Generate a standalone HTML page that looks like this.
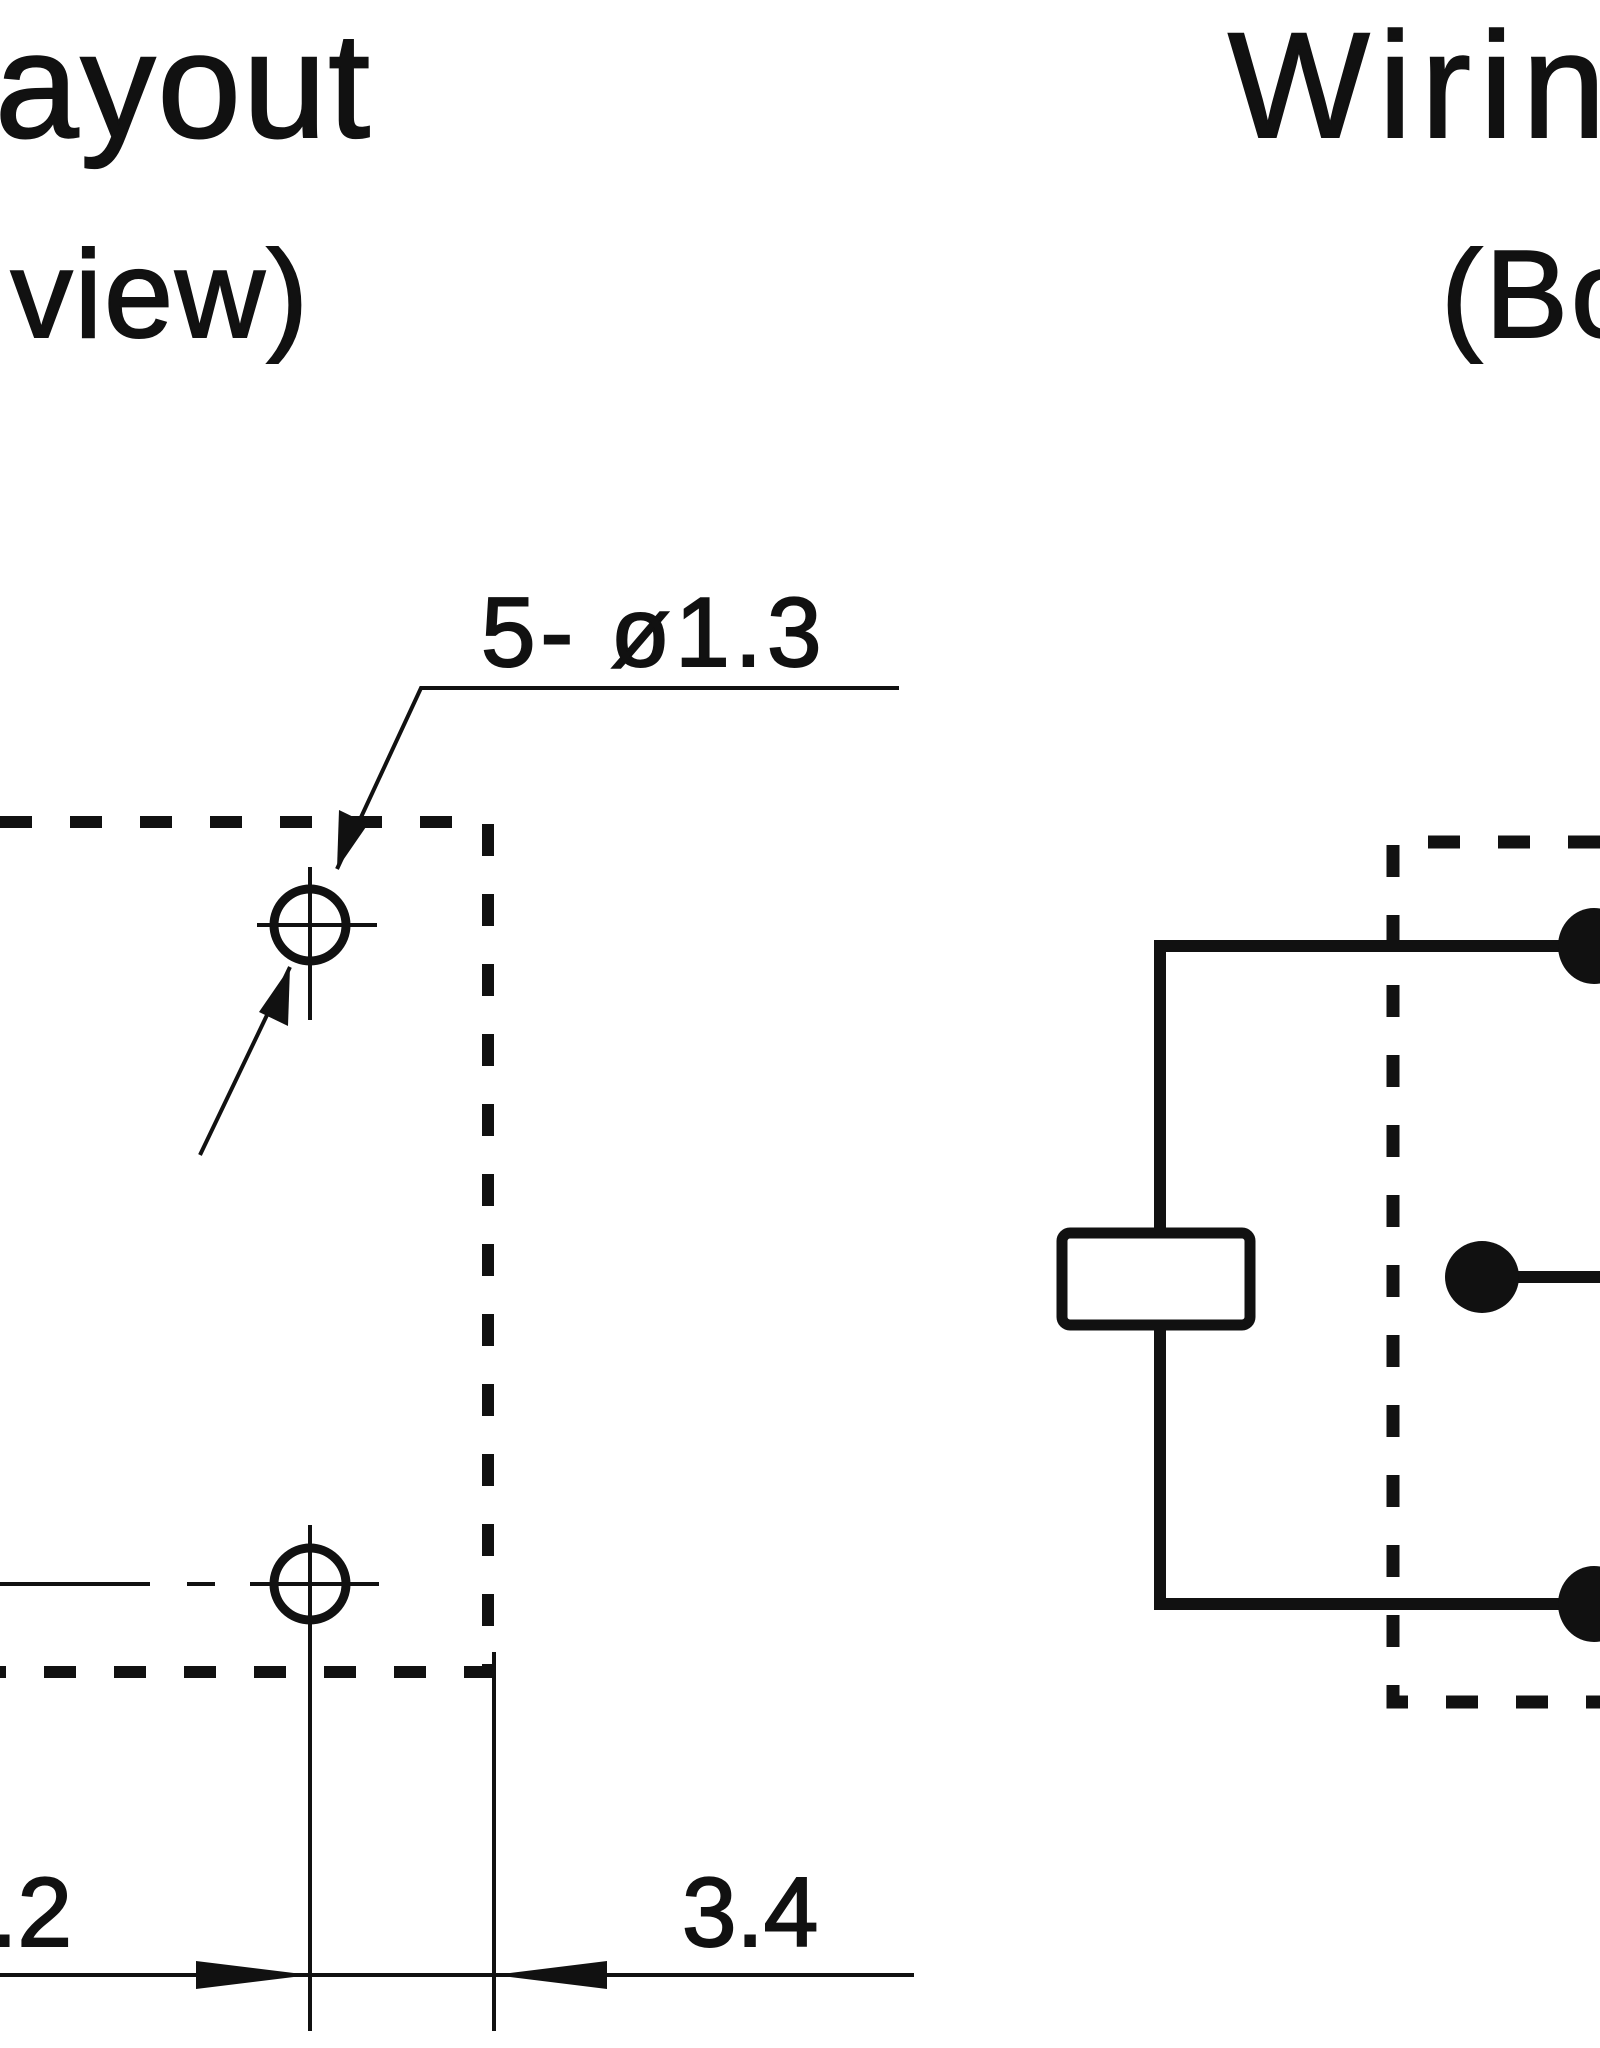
<!DOCTYPE html>
<html><head><style>html,body{margin:0;padding:0;background:#fff}svg{display:block}</style></head>
<body>
<svg width="1600" height="2048" viewBox="0 0 1600 2048" xmlns="http://www.w3.org/2000/svg">
<g font-family="Liberation Sans, sans-serif" fill="#111" stroke="#111" stroke-width="2">
<text x="372" y="137" font-size="150" text-anchor="end" letter-spacing="2">Layout</text>
<text x="310" y="337" font-size="124" text-anchor="end" letter-spacing="2">(Bottom view)</text>
<text x="1228" y="137" font-size="150" letter-spacing="9">Wiring Diagram</text>
<text x="1441" y="337" font-size="124" letter-spacing="3">(Bottom view)</text>
<text x="481" y="666" font-size="98" letter-spacing="5">5- ø1.3</text>
<text x="72" y="1946" font-size="98" text-anchor="end">2.2</text>
<text x="682" y="1946" font-size="98">3.4</text>
</g>
<g stroke="#111" fill="none">
<path d="M0 822 H488 V1672 H0" stroke-width="12" stroke-dasharray="32 38"/>
<polyline points="899,688 421,688 337,869" stroke-width="4"/>
<circle cx="310" cy="925" r="36" stroke-width="9"/>
<line x1="257" y1="925" x2="377" y2="925" stroke-width="4"/>
<line x1="310" y1="867" x2="310" y2="1020" stroke-width="4"/>
<line x1="200" y1="1155" x2="290" y2="967" stroke-width="4"/>
<circle cx="310" cy="1584" r="36" stroke-width="9"/>
<line x1="0" y1="1584" x2="150" y2="1584" stroke-width="4"/>
<line x1="187" y1="1584" x2="215" y2="1584" stroke-width="4"/>
<line x1="250" y1="1584" x2="379" y2="1584" stroke-width="4"/>
<line x1="310" y1="1525" x2="310" y2="2031" stroke-width="4"/>
<line x1="494" y1="1652" x2="494" y2="2031" stroke-width="4"/>
<line x1="0" y1="1975" x2="914" y2="1975" stroke-width="4"/>
</g>
<g fill="#111">
<polygon points="337,869 339,810 368,824"/>
<polygon points="290,967 288,1026 259,1012"/>
<polygon points="310,1975 196,1961 196,1989"/>
<polygon points="494,1975 607,1961 607,1989"/>
</g>
<g stroke="#111" fill="none">
<path d="M1600 842 H1393 V1702 H1600" stroke-width="13" stroke-dasharray="32 38"/>
<polyline points="1600,946 1160,946 1160,1231" stroke-width="12"/>
<polyline points="1600,1604 1160,1604 1160,1326" stroke-width="12"/>
<rect x="1062" y="1233" width="188" height="92" rx="8" stroke-width="11" fill="#fff"/>
<line x1="1482" y1="1277" x2="1600" y2="1277" stroke-width="12"/>
</g>
<g fill="#111">
<ellipse cx="1594" cy="946" rx="36" ry="38"/>
<ellipse cx="1594" cy="1604" rx="36" ry="38"/>
<ellipse cx="1482" cy="1277" rx="37" ry="36"/>
</g>
</svg>
</body></html>
